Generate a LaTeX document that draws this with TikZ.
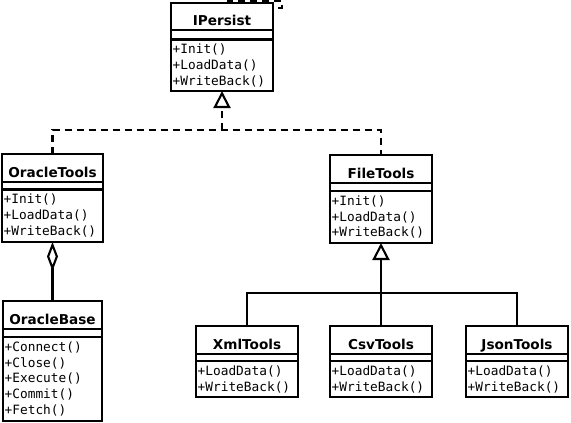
\documentclass[tikz,border=0pt]{standalone}
\usepackage{fontspec}
\setmainfont{DejaVu Sans}
\newfontfamily\methfont{DejaVu Sans Mono}
\usetikzlibrary{arrows.meta,calc}
\tikzset{
  classbox/.style={draw, line width=2.1pt, inner sep=0pt, outer sep=0pt, anchor=north west},
  divline/.style={line width=2.1pt},
  titletext/.style={font=\bfseries\fontsize{13.6}{16}\selectfont, inner sep=0pt, anchor=base},
  methtext/.style={font=\methfont\fontsize{12.8}{16}\selectfont, inner sep=0pt, anchor=base west},
  realize/.style={line width=2.1pt, dash pattern=on 7pt off 5pt},
  generalize/.style={line width=2.1pt},
  opentri/.style={-{Triangle[open,length=17pt,width=17pt]}},
  aggr/.style={-{Diamond[open,length=29pt,width=11pt]}},
}
\newcommand\umlclass[9]{%
  \node[classbox, minimum width={(#3-#2)*1pt}, minimum height={(#7-#4)*1pt}] (#1) at (#2,-#4) {};
  \draw[divline] (#2,-#5) -- (#3,-#5) (#2,-#6) -- (#3,-#6);
  \node[titletext] (#1-title) at ({(#2+#3)/2},{-(#5-4.5)}) {#8};
  \foreach \m [count=\i] in {#9}
    \node[methtext] (#1-m\i) at ({#2+1.5},{-(#6+14.3+15.8*(\i-1))}) {\m};
}
\begin{document}
\begin{tikzpicture}[x=1pt,y=1pt]
\useasboundingbox (0,0) rectangle (571,-423);
\fill[white] (0,0) rectangle (571,-423);
\umlclass{ip}{171}{273}{3}{30}{39.5}{91}{IPersist}{+Init(),+LoadData(),+WriteBack()}
\umlclass{ot}{2}{103}{154}{182}{189.5}{242}{OracleTools}{+Init(),+LoadData(),+WriteBack()}
\umlclass{ob}{3}{102}{301}{329}{337}{421}{OracleBase}{+Connect(),+Close(),+Execute(),+Commit(),+Fetch()}
\umlclass{ft}{330}{432}{155}{183}{191}{243}{FileTools}{+Init(),+LoadData(),+WriteBack()}
\umlclass{xt}{196}{298}{326}{354}{361}{397}{XmlTools}{+LoadData(),+WriteBack()}
\umlclass{ct}{330}{432}{326}{354}{361}{397}{CsvTools}{+LoadData(),+WriteBack()}
\umlclass{jt}{466}{568}{326}{354}{361}{397}{JsonTools}{+LoadData(),+WriteBack()}
% realization of IPersist
\coordinate (jn) at (222,-130);
\draw[realize] (ot.north) |- (jn) -| (ft.north);
\draw[realize, opentri] (jn) -- (ip.south);
% aggregation
\draw[generalize, aggr] (ob.north) -- (ot.south);
% inheritance from FileTools
\coordinate (hb) at (381,-293);
\draw[generalize] (xt.north) |- (hb) -| (jt.north);
\draw[generalize, opentri] (ct.north) -- (ft.south);
% self loop on IPersist
\coordinate (la) at ($(ip.north west)+(57,0)$);
\coordinate (lb) at (282,-1);
\coordinate (lc) at (282,-8);
\draw[realize] (la) -- (la |- lb) -- (lb) -- (lc) -- (lc -| ip.east);
\end{tikzpicture}
\end{document}
